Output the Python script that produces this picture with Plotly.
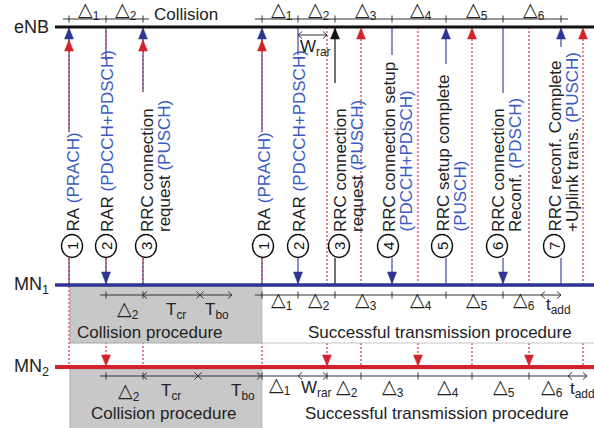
import plotly.graph_objects as go

# ---------------- data ----------------
entity_names = ["eNB", "MN<sub>1</sub>", "MN<sub>2</sub>"]
entity_y = [27, 285, 367]

# collision procedure (messages shared by MN1 and MN2)
col_times = [69, 106, 143]
col_dirs = ["up", "down", "up"]
# successful transmission procedure
mn1_times = [262, 298, 335, 392, 446, 503, 561]
mn2_times = [262, 327, 361, 418, 472, 529, 583]
msg_dirs = ["up", "down", "up", "down", "up", "down", "up"]
mn1_msg_color = ["blue", "blue", "black", "blue", "blue", "blue", "blue"]

# collision timing marks
mn1_tcr_end, mn1_tbo_end = 200, 232
mn2_tcr_end, mn2_tbo_end = 198, 261
mn1_tadd = [541, 561]
mn2_tadd = [568, 587]

col_labels = [
    [("RA\u00a0", "(PRACH)")],
    [("RAR\u00a0", "(PDCCH+PDSCH)")],
    [("RRC connection", ""), ("request\u00a0", "(PUSCH)")],
]
suc_labels = [
    [("RA\u00a0", "(PRACH)")],
    [("RAR\u00a0", "(PDCCH+PDSCH)")],
    [("RRC connection", ""), ("request\u00a0", "(PUSCH)")],
    [("RRC connection setup", ""), ("", "(PDCCH+PDSCH)")],
    [("RRC setup complete", ""), ("", "(PUSCH)")],
    [("RRC connection", ""), ("Reconf.\u00a0", "(PDSCH)")],
    [("RRC reconf. Complete", ""), ("+Uplink trans.\u00a0", "(PUSCH)")],
]
tri = "\u25b3"

# ---------------- layout helpers ----------------
BLUE = "#2e3592"
LBLUE = "#3a48a4"
TBLUE = "#3a5cc4"
RED = "#d3222b"
DRED = "#e0313c"
BLACK = "#111111"
TXT = "#222222"
FONT = "Liberation Sans, Arial, DejaVu Sans, sans-serif"

# circle centres and upper gap ends (layout of the message labels)
col_circle_x = [72, 106, 146]
col_gap_top = [132, 60, 92]
suc_circle_x = [263, 298, 339, 388, 442, 497, 554]
suc_gap_top = [132, 55, 83, 55, 64, 93, 47]
circle_y = 246
circle_bottom = 258

shapes = []
annos = []


def seg(x0, y0, x1, y1, color, width=1.0, dash=None):
    ln = dict(color=color, width=width)
    if dash:
        ln["dash"] = dash
    shapes.append(dict(type="line", xref="x", yref="y", x0=x0, y0=y0, x1=x1, y1=y1, line=ln))


def head(x, tip, base, color, half=4.5):
    shapes.append(dict(type="path", xref="x", yref="y",
                       path=f"M {x-half},{base} L {x+half},{base} L {x},{tip} Z",
                       fillcolor=color, line=dict(color=color, width=0.5)))


def text(x, y, s, size=17, xanchor="center", yanchor="middle", angle=0, color=TXT):
    annos.append(dict(x=x, y=y, xref="x", yref="y", text=s, showarrow=False,
                      xanchor=xanchor, yanchor=yanchor, textangle=angle,
                      font=dict(family=FONT, size=size, color=color), borderpad=0))


def tick(x, y, h=3.5, color="#333"):
    seg(x, y - h, x, y + h, color, 1)


def chev(x, y, d, color="#333"):
    # d=-1 -> "<" at x, d=+1 -> ">" at x
    shapes.append(dict(type="path", xref="x", yref="y",
                       path=f"M {x - d*4},{y-3.5} L {x},{y} L {x - d*4},{y+3.5}",
                       line=dict(color=color, width=1)))


def cross(x, y, color="#333"):
    seg(x - 3.5, y - 3.5, x + 3.5, y + 3.5, color, 1)
    seg(x - 3.5, y + 3.5, x + 3.5, y - 3.5, color, 1)


def darrow(x0, x1, y):
    seg(x0, y, x1, y, "#333", 1)
    chev(x0, y, -1)
    chev(x1, y, +1)


def delta(k):
    return f"<span style='font-size:19px'>{tri}</span><sub>{k}</sub>"


y_enb, y_mn1, y_mn2 = entity_y
RDASH = "2px,2px"

# ---------------- vertical message lines ----------------
for times, gaps, colors in [(col_times, col_gap_top, ["blue"] * 3),
                            (mn1_times, suc_gap_top, mn1_msg_color)]:
    for t, g, c in zip(times, gaps, colors):
        col = LBLUE if c == "blue" else BLACK
        seg(t, y_enb, t, g, col, 1.2)
        seg(t, circle_bottom, t, y_mn1, col, 1.2)

for t in col_times:
    g = col_gap_top[col_times.index(t)]
    seg(t, y_enb, t, g, DRED, 1.2, RDASH)
    seg(t, circle_bottom, t, y_mn2, DRED, 1.2, RDASH)
for i, t in enumerate(mn2_times):
    if t == mn1_times[i]:
        g = suc_gap_top[i]
        seg(t, y_enb, t, g, DRED, 1.2, RDASH)
        seg(t, circle_bottom, t, y_mn2, DRED, 1.2, RDASH)
    else:
        seg(t, y_enb, t, y_mn2, DRED, 1.2, RDASH)

# ---------------- procedure boxes ----------------
box_left, box_split = 70, 262
for top, bot in [(y_mn1 + 1, 343), (y_mn2 + 2, 432)]:
    shapes.append(dict(type="rect", xref="x", yref="y", x0=box_left, x1=box_split, y0=top, y1=bot,
                       fillcolor="#c8c8c8", line=dict(color="#a8a8a8", width=1)))
    shapes.append(dict(type="rect", xref="x", yref="y", x0=box_split, x1=600, y0=top, y1=bot,
                       fillcolor="#ffffff", line=dict(color="#c4c4c4", width=1)))

# ---------------- entity lines ----------------
seg(55, y_enb, 594, y_enb, BLACK, 3)
seg(55, y_mn1, 594, y_mn1, BLUE, 3.5)
seg(55, y_mn2, 594, y_mn2, RED, 4)
text(13, y_enb, entity_names[0], size=18, xanchor="left")
text(13, y_mn1, entity_names[1], size=18, xanchor="left")
text(13, y_mn2, entity_names[2], size=18, xanchor="left")

# ---------------- arrow heads ----------------
for times, dirs, tag in [(col_times, col_dirs, "col"), (mn1_times, msg_dirs, "mn1")]:
    for i, (t, d) in enumerate(zip(times, dirs)):
        c = BLACK if (tag == "mn1" and mn1_msg_color[i] == "black") else BLUE
        if d == "up":
            head(t, y_enb + 1, y_enb + 12, c)
        else:
            head(t, y_mn1 - 1, y_mn1 - 13, BLUE)
for times, dirs, shared in [(col_times, col_dirs, True), (mn2_times, msg_dirs, None)]:
    for i, (t, d) in enumerate(zip(times, dirs)):
        both = shared or (t == mn1_times[i])
        if d == "up":
            if both:
                head(t, y_enb + 13, y_enb + 24, RED)
            else:
                head(t, y_enb + 1, y_enb + 12, RED)
        else:
            head(t, y_mn2 - 1, y_mn2 - 12, RED)


# ---------------- message labels ----------------
def label(cx, num, lines):
    shapes.append(dict(type="circle", xref="x", yref="y", x0=cx - 10.5, x1=cx + 10.5,
                       y0=circle_y - 11.5, y1=circle_y + 11.5,
                       fillcolor="white", line=dict(color=BLACK, width=1.4)))
    text(cx, circle_y, str(num), size=15, angle=-90, color=BLACK)
    for j, (blk, blu) in enumerate(lines):
        s = blk
        if blu:
            s += f"<span style='color:{TBLUE}'>{blu}</span>"
        text(cx + 1 + 17 * j, circle_y - 13, s, size=17, yanchor="bottom", angle=-90)


for i, (cx, lab) in enumerate(zip(col_circle_x, col_labels)):
    label(cx, i + 1, lab)
for i, (cx, lab) in enumerate(zip(suc_circle_x, suc_labels)):
    label(cx, i + 1, lab)

# ---------------- timing marks at eNB ----------------
yt = 19
seg(col_times[0] - 6, yt, col_times[-1] + 6, yt, "#333", 1)
for t in col_times:
    tick(t, yt)
seg(mn1_times[0] - 7, yt, mn1_times[-1] + 7, yt, "#333", 1)
for t in mn1_times:
    tick(t, yt)
for k in range(len(col_times) - 1):
    text((col_times[k] + col_times[k + 1]) / 2 + 1, 11, delta(k + 1), size=17)
text(186, 14, "Collision", size=17)
for k in range(len(mn1_times) - 1):
    text((mn1_times[k] + mn1_times[k + 1]) / 2 + 2, 11, delta(k + 1), size=17)
darrow(mn1_times[1], mn2_times[1], 35)
text((mn1_times[1] + mn2_times[1]) / 2 + 3, 48, "W<sub>rar</sub>", size=17)

# ---------------- MN1 timing ----------------
y1 = 295
seg(100, y1, mn1_tbo_end, y1, "#333", 1)
tick(col_times[1], y1)
tick(col_times[2], y1)
chev(col_times[2], y1, -1)
cross(mn1_tcr_end, y1)
chev(mn1_tbo_end, y1, +1)
text((col_times[1] + col_times[2]) / 2 + 3, 310, delta(2))
text((col_times[2] + mn1_tcr_end) / 2 + 4, 311, "T<sub>cr</sub>")
text((mn1_tcr_end + mn1_tbo_end) / 2 + 1, 311, "T<sub>bo</sub>")
text(150, 332, "Collision procedure")

seg(mn1_times[0] - 7, y1, mn1_tadd[0], y1, "#333", 1)
for t in mn1_times[:6]:
    tick(t, y1)
darrow(mn1_tadd[0], mn1_tadd[1], y1)
bounds = mn1_times[:6] + [mn1_tadd[0]]
for k in range(len(bounds) - 1):
    text((bounds[k] + bounds[k + 1]) / 2 + 2, 301, delta(k + 1))
text((mn1_tadd[0] + mn1_tadd[1]) / 2 + 7, 306, "t<sub>add</sub>")
text(440, 332, "Successful transmission procedure")

# ---------------- MN2 timing ----------------
y2 = 376
seg(100, y2, mn2_tbo_end, y2, "#333", 1)
tick(col_times[1], y2)
tick(col_times[2], y2)
chev(col_times[2], y2, -1)
cross(mn2_tcr_end, y2)
chev(mn2_tbo_end, y2, +1)
text((col_times[1] + col_times[2]) / 2 + 4, 392, delta(2))
text((col_times[2] + mn2_tcr_end) / 2, 392, "T<sub>cr</sub>")
text(mn2_tbo_end - 18, 392, "T<sub>bo</sub>")
text(164, 413, "Collision procedure")

seg(mn2_tbo_end, y2, mn2_tadd[0], y2, "#333", 1)
tick(mn2_times[0], y2)
chev(mn1_times[1], y2, -1)
chev(mn2_times[1], y2, +1)
for t in mn2_times[1:6]:
    tick(t, y2)
darrow(mn2_tadd[0], mn2_tadd[1], y2)
text((mn2_times[0] + mn1_times[1]) / 2, 386, delta(1))
text((mn1_times[1] + mn2_times[1]) / 2 + 4, 389, "W<sub>rar</sub>")
bounds2 = mn2_times[1:6] + [mn2_tadd[0]]
for k in range(len(bounds2) - 1):
    text((bounds2[k] + bounds2[k + 1]) / 2 + 3, 388, delta(k + 2))
text((mn2_tadd[0] + mn2_tadd[1]) / 2 + 5, 390, "t<sub>add</sub>")
text(437, 413, "Successful transmission procedure")

# ---------------- figure ----------------
fig = go.Figure()
fig.add_trace(go.Scatter(x=[0, 594], y=[0, 428], mode="markers",
                         marker=dict(opacity=0), hoverinfo="skip", showlegend=False))
fig.update_layout(
    width=594, height=428, margin=dict(l=0, r=0, t=0, b=0),
    paper_bgcolor="white", plot_bgcolor="white",
    xaxis=dict(range=[0, 594], visible=False, fixedrange=True),
    yaxis=dict(range=[428, 0], visible=False, fixedrange=True),
    shapes=shapes, annotations=annos, showlegend=False,
)
fig.write_html("out.html", config={"displayModeBar": False},
               post_script="document.body.style.margin='0';document.body.style.padding='0';")
